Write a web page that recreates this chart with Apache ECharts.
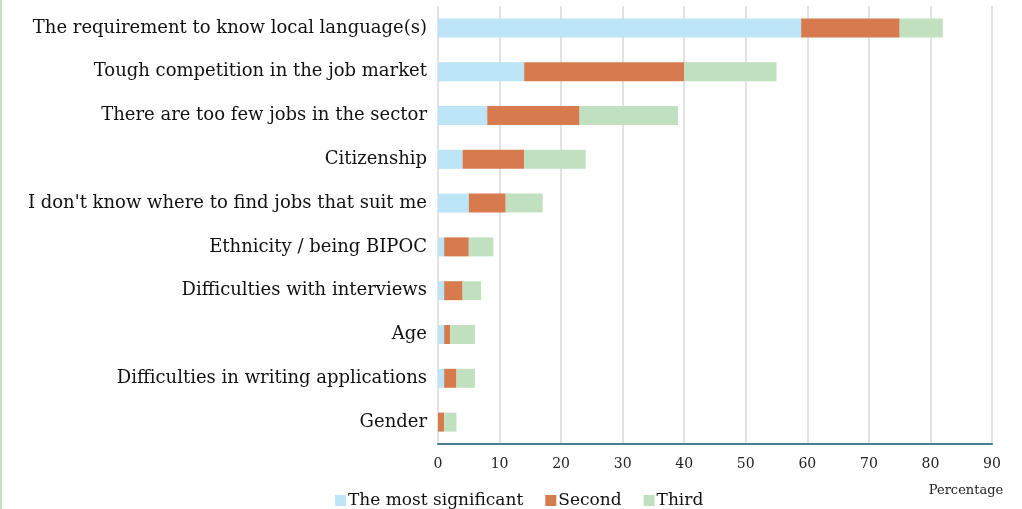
<!DOCTYPE html>
<html><head><meta charset="utf-8">
<script src="https://cdn.jsdelivr.net/npm/echarts@6/dist/echarts.min.js"></script>
<style>html,body{margin:0;padding:0;background:#fff}#c{width:1022px;height:509px}</style>
</head><body><div id="c"></div>
<script>
const categories = ["The requirement to know local language(s)","Tough competition in the job market","There are too few jobs in the sector","Citizenship","I don't know where to find jobs that suit me","Ethnicity / being BIPOC","Difficulties with interviews","Age","Difficulties in writing applications","Gender"];
const mostSignificant = [59,14,8,4,5,1,1,1,1,0];
const second = [16,26,15,10,6,4,3,1,2,1];
const third = [7,15,16,10,6,4,3,4,3,2];
const xTicks = [0,10,20,30,40,50,60,70,80,90];
const FONT = "DejaVu Serif";
const chart = echarts.init(document.getElementById('c'));
const mk = (name, data, color) => ({name, type:'bar', stack:'t', data, barWidth:19, itemStyle:{color}, emphasis:{disabled:true}});
chart.setOption({
  animation:false,
  grid:{left:438, right:30, top:6, bottom:65, containLabel:false},
  graphic:[{type:'rect', shape:{x:0,y:0,width:2,height:509}, style:{fill:'#bfe3bf'}}],
  legend:{left:330, top:487, itemWidth:11, itemHeight:11, itemGap:22, icon:'rect',
    textStyle:{fontFamily:FONT, fontSize:17, color:'#111', padding:[0,0,0,-3]}},
  xAxis:{type:'value', min:0, max:90, interval:10,
    name:'Percentage', nameLocation:'end', nameGap:0,
    nameTextStyle:{fontFamily:FONT, fontSize:13, color:'#222', align:'center', verticalAlign:'top', padding:[40,52,0,0]},
    axisLine:{show:true, lineStyle:{color:'#4f7d96', width:2}},
    axisTick:{show:false},
    axisLabel:{fontFamily:FONT, fontSize:14, color:'#222', margin:13, formatter:v=>xTicks.includes(v)?String(v):''},
    splitLine:{show:true, lineStyle:{color:'#d9d9d9', width:1.5}}},
  yAxis:{type:'category', data:categories, inverse:true,
    axisLine:{show:false}, axisTick:{show:false},
    axisLabel:{fontFamily:FONT, fontSize:18, color:'#111', margin:11}},
  series:[mk('The most significant', mostSignificant, '#bde5f8'), mk('Second', second, '#d67b4d'), mk('Third', third, '#c1e0c0')]
});
</script></body></html>
